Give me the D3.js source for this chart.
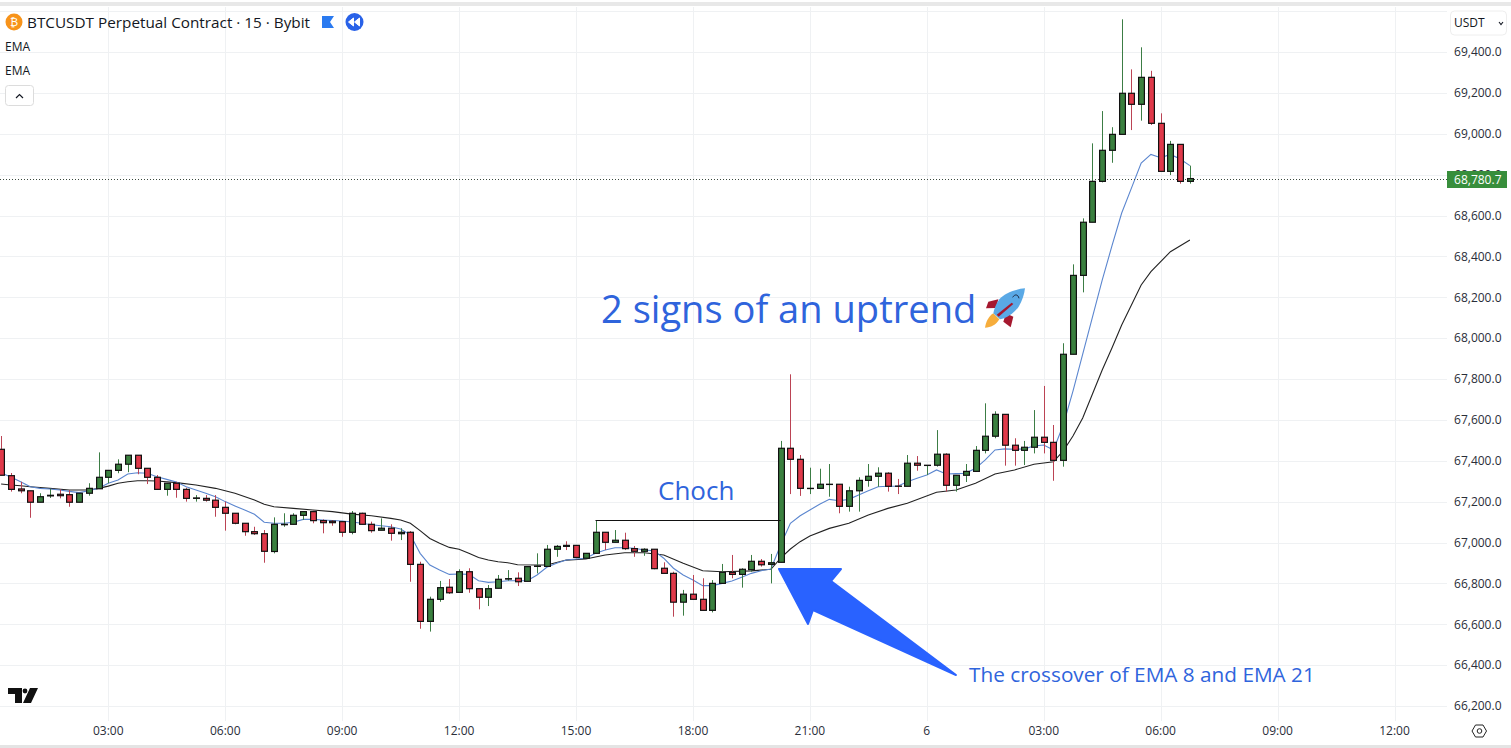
<!DOCTYPE html>
<html>
<head>
<meta charset="utf-8">
<title>BTCUSDT Perpetual Contract</title>
<script src="https://cdn.jsdelivr.net/npm/d3@7"></script>
<style>
  html, body { margin: 0; padding: 0; background: #fff; overflow: hidden; }
  svg { display: block; font-family: "Open Sans", sans-serif; }
</style>
</head>
<body>
<div id="chart"></div>
<script>
// 15 minute candles
var opens = [67456,67327,67262,67253,67197,67228,67236,67234,67197,67241,67263,67319,67353,67383,67427,67363,67319,67260,67290,67260,
  67216,67216,67207,67172,67143,67094,67053,67043,66956,67087,67089,67133,67151,67107,67104,67102,67050,67143,67089,67060,
  67070,67043,67050,66893,66614,66722,66781,66756,66857,66774,66732,66776,66821,66825,66810,66883,66883,66967,66986,66986,
  66923,66947,67050,67001,67011,66970,66957,66967,66874,66849,66708,66747,66722,66668,66800,66854,66844,66867,66908,66893,
  66903,67461,67407,67264,67265,67284,67285,67177,67253,67304,67324,67339,67276,67275,67388,67377,67378,67432,67280,67329,
  67348,67451,67520,67627,67476,67451,67466,67515,67490,67402,67921,68307,68567,68767,68919,68997,69198,69144,69276,69051,
  68816,68948,68767];
var closes = [67329,67260,67253,67197,67224,67231,67229,67197,67241,67265,67319,67353,67383,67427,67363,67319,67260,67290,67260,67216,
  67218,67207,67172,67143,67094,67053,67043,66957,67089,67089,67133,67151,67107,67097,67097,67050,67143,67089,67058,67070,
  67045,67050,66893,66614,66722,66779,66754,66857,66774,66732,66774,66820,66823,66808,66882,66885,66967,66981,66981,66927,
  66947,67050,67001,67011,66970,66957,66967,66872,66849,66708,66747,66722,66668,66800,66854,66844,66869,66908,66891,66901,
  67461,67407,67265,67265,67285,67285,67177,67253,67304,67324,67339,67275,67275,67388,67378,67378,67432,67280,67329,67348,
  67451,67520,67627,67476,67451,67466,67515,67490,67402,67921,68307,68567,68767,68919,68997,69198,69144,69276,69051,68816,
  68948,68767,68780.7];
var highs = [67521,67340,67297,67253,67241,67262,67260,67257,67241,67290,67441,67353,67407,67427,67427,67363,67330,67290,67297,67268,
  67232,67232,67232,67200,67143,67094,67077,67061,67123,67143,67143,67151,67156,67113,67110,67102,67154,67146,67102,67118,
  67089,67070,67056,66906,66735,66812,66821,66869,66874,66774,66792,66841,66865,66854,66882,66947,66988,66988,67006,66986,
  66947,67110,67050,67061,67048,66983,66972,66967,66903,66857,66768,66841,66825,66816,66895,66939,66874,66939,66919,66944,
  67497,67823,67428,67366,67361,67384,67285,67273,67319,67384,67368,67344,67311,67428,67423,67378,67550,67437,67329,67384,
  67472,67681,67642,67627,67510,67497,67648,67766,67575,67975,68361,68586,68953,69111,69032,69560,69315,69423,69308,69100,
  68965,68948,68844];
var lows = [67329,67249,67241,67121,67197,67218,67216,67175,67197,67229,67263,67290,67339,67344,67334,67286,67260,67229,67219,67200,
  67200,67200,67126,67058,67089,67033,67037,66901,66947,67077,67089,67110,67094,67045,67082,67028,67040,67089,67048,67060,
  67009,67012,66808,66578,66564,66710,66748,66756,66754,66673,66689,66776,66813,66787,66810,66849,66883,66930,66963,66923,
  66919,66947,66963,67001,66963,66930,66935,66869,66849,66637,66642,66722,66668,66658,66800,66825,66779,66857,66882,66800,
  66903,67237,67228,67237,67265,67224,67143,67151,67151,67273,67273,67249,67237,67275,67351,67330,67371,67249,67249,67296,
  67345,67436,67510,67376,67376,67379,67436,67436,67302,67371,67921,68224,68567,68762,68858,68997,69018,69064,69043,68816,
  68798,68756,68756];

// EMA 8, one reading per candle
var emaFast = [67340,67320,67297,67273,67265,67262,67257,67250,67244,67253,67265,67290,67306,67335,67341,67339,67322,67309,67296,67273,
  67257,67241,67224,67200,67179,67159,67138,67099,67094,67094,67099,67113,67113,67110,67108,67105,67100,67094,67087,67082,
  67077,67066,67037,66947,66890,66865,66844,66846,66844,66813,66805,66808,66813,66813,66813,66841,66879,66898,66914,66919,
  66923,66947,66963,66974,66974,66972,66963,66960,66923,66874,66841,66817,66789,66789,66800,66812,66830,66849,66862,66870,
  66988,67094,67131,67159,67187,67211,67204,67211,67232,67253,67273,67275,67275,67297,67314,67330,67355,67335,67337,67339,
  67363,67404,67453,67458,67456,67458,67472,67477,67453,67575,67741,67922,68103,68284,68451,68612,68734,68857,68899,68883,
  68899,68876,68844];

// EMA 21, read at the candles listed in emaSlowAt
var emaSlowAt = [0,1,2,3,5,7,9,10,11,12,13,14,15,16,18,20,22,24,26,27,28,30,32,34,36,38,40,41,42,43,44,45,46,47,48,49,50,51,52,53,55,56,
  58,60,62,64,66,68,70,72,74,77,79,80,81,82,83,85,87,89,91,93,96,98,100,102,104,106,108,109,110,111,112,113,114,115,117,118,120,122];
var emaSlow = [67286,67281,67278,67273,67265,67257,67257,67265,67276,67290,67297,67302,67302,67301,67293,67281,67265,67241,67208,67187,67175,67167,67159,67151,67139,67131,67118,67110,67094,67058,67020,66996,66976,66967,66947,66927,66914,66906,66901,66891,66890,66890,
  66914,66919,66939,66950,66950,66939,66898,66862,66857,66861,66869,66924,66968,67004,67032,67069,67094,67135,67167,67192,67246,67257,67290,67335,67355,67383,67395,67448,67521,67609,67727,67844,67952,68064,68260,68325,68423,68480];

var priceTicks = [66200,66400,66600,66800,67000,67200,67400,67600,67800,68000,68200,68400,68600,68800,69000,69200,69400];
var gridPrices = priceTicks.concat([69600]);
var timeTickAt = [11,23,35,47,59,71,83,95,107,119,131,143];
var timeLabels = ['03:00','06:00','09:00','12:00','15:00','18:00','21:00','6','03:00','06:00','09:00','12:00'];

var lastPrice = 68780.7;
var chochPrice = 67110, chochFrom = 61, chochTo = 80;

var width = 1511, height = 748;
var plotRight = 1447;
var upFill = '#3a803f', downFill = '#e0394a', upWick = '#3c7d45', downWick = '#bb4354';
var blue = '#2f64dc';

var x = d3.scaleLinear().domain([0, 122]).range([1.1, 1189.9]);
var y = d3.scaleLinear().domain([69400, 66200]).range([52, 706]);

var svg = d3.select('#chart').append('svg')
  .attr('width', width)
  .attr('height', height);

svg.append('rect').attr('width', width).attr('height', height).attr('fill', '#fff');
svg.append('rect').attr('y', 2).attr('width', width).attr('height', 4).attr('fill', '#e8e8e8');
svg.append('rect').attr('y', 745).attr('width', width).attr('height', 3).attr('fill', '#e4e4e4');

// grid
svg.append('g').selectAll('line').data(gridPrices).enter().append('line')
  .attr('x1', 0).attr('x2', plotRight)
  .attr('y1', function(d) { return Math.round(y(d)) + 0.5; })
  .attr('y2', function(d) { return Math.round(y(d)) + 0.5; })
  .attr('stroke', '#eff1f3');
svg.append('g').selectAll('line').data(timeTickAt).enter().append('line')
  .attr('y1', 7).attr('y2', 721)
  .attr('x1', function(d) { return Math.round(x(d)) + 0.5; })
  .attr('x2', function(d) { return Math.round(x(d)) + 0.5; })
  .attr('stroke', '#eff1f3');

// axes
var priceAxis = d3.axisRight(y)
  .tickValues(priceTicks)
  .tickSize(0)
  .tickFormat(d3.format(',.1f'));
var gp = svg.append('g').attr('transform', 'translate(1501.5,0)').call(priceAxis);
gp.select('.domain').remove();
gp.selectAll('text').attr('x', 0).attr('text-anchor', 'end')
  .style('font-size', '12px').style('font-family', '"Open Sans", sans-serif').attr('fill', '#2a2e39');

var timeAxis = d3.axisBottom(x)
  .tickValues(timeTickAt)
  .tickSize(0)
  .offset(0)
  .tickFormat(function(d, i) { return timeLabels[i]; });
var gt = svg.append('g').attr('transform', 'translate(0,726)').call(timeAxis);
gt.select('.domain').remove();
gt.selectAll('text').attr('y', 0).attr('dy', '0.71em')
  .style('font-size', '12px').style('font-family', '"Open Sans", sans-serif').attr('fill', '#2a2e39');

// ema lines
var lineFast = d3.line()
  .x(function(d, i) { return x(i); })
  .y(function(d) { return y(d); });
var lineSlow = d3.line()
  .x(function(d, i) { return x(emaSlowAt[i]); })
  .y(function(d) { return y(d); });

svg.append('path').datum(emaSlow).attr('d', lineSlow)
  .attr('fill', 'none').attr('stroke', '#222').attr('stroke-width', 1.1);
svg.append('path').datum(emaFast).attr('d', lineFast)
  .attr('fill', 'none').attr('stroke', '#5b86cf').attr('stroke-width', 1.1);

// last price dotted line
svg.append('line')
  .attr('x1', 0).attr('x2', plotRight)
  .attr('y1', Math.round(y(lastPrice)) + 0.5).attr('y2', Math.round(y(lastPrice)) + 0.5)
  .attr('stroke', '#3c4a3e').attr('stroke-dasharray', '1,2');

// candles
var candle = svg.append('g').selectAll('g').data(d3.range(opens.length)).enter().append('g');
candle.append('line')
  .attr('x1', function(d) { return Math.round(x(d)) + 0.5; })
  .attr('x2', function(d) { return Math.round(x(d)) + 0.5; })
  .attr('y1', function(d) { return y(highs[d]); })
  .attr('y2', function(d) { return y(lows[d]); })
  .attr('stroke', function(d) { return closes[d] >= opens[d] ? upWick : downWick; })
  .attr('stroke-width', 1);
candle.append('rect')
  .attr('x', function(d) { return Math.round(x(d)) + 0.5 - 2.9; })
  .attr('width', 5.8)
  .attr('y', function(d) { return y(Math.max(opens[d], closes[d])); })
  .attr('height', function(d) { return Math.abs(y(opens[d]) - y(closes[d])); })
  .attr('fill', function(d) { return closes[d] >= opens[d] ? upFill : downFill; })
  .attr('stroke', '#111')
  .attr('stroke-width', 1.2);

// choch level
svg.append('line')
  .attr('x1', x(chochFrom)).attr('x2', x(chochTo))
  .attr('y1', Math.round(y(chochPrice)) + 0.5).attr('y2', Math.round(y(chochPrice)) + 0.5)
  .attr('stroke', '#111').attr('stroke-width', 1);

// annotations
svg.append('text').attr('x', 601).attr('y', 323).text('2 signs of an uptrend')
  .attr('fill', blue).style('font-size', '38.1px');
svg.append('text').attr('x', 658).attr('y', 500).text('Choch')
  .attr('fill', blue).style('font-size', '26px');
svg.append('text').attr('x', 969).attr('y', 682).text('The crossover of EMA 8 and EMA 21')
  .attr('fill', blue).style('font-size', '20.75px');

// arrow
svg.append('path')
  .attr('d', 'M779,569 L841,569 L831,581 L956,675 L813,610 L808,624 Z')
  .attr('fill', '#2962ff').attr('stroke', '#2962ff').attr('stroke-width', 2).attr('stroke-linejoin', 'round');

// rocket
var rocket = svg.append('g').attr('transform', 'translate(960,280) scale(0.3333)');
rocket.append('path').attr('d', 'M100,100 C85,110 78,125 75,143 C92,143 108,135 118,118 Z').attr('fill', '#f6ad3c');
rocket.append('path').attr('d', 'M115,58 L85,65 L78,85 L108,84 Z').attr('fill', '#a5182f');
rocket.append('path').attr('d', 'M138,100 L130,125 L152,142 L160,110 Z').attr('fill', '#a5182f');
rocket.append('path').attr('d', 'M195,25 C165,28 135,38 118,58 C108,72 102,88 100,100 L120,118 C140,115 162,100 176,80 C188,60 193,42 195,25 Z').attr('fill', '#5aa9e6');
rocket.append('path').attr('d', 'M110,104 L155,68 L160,72 L116,110 Z').attr('fill', '#a5182f');
rocket.append('path').attr('d', 'M158,52 C164,42 174,42 177,55').attr('fill', 'none').attr('stroke', '#1d2a44').attr('stroke-width', 3);

// last price label, sits on top of the 68,800 tick
svg.append('rect').attr('x', 1447).attr('y', 171).attr('width', 60).attr('height', 17).attr('fill', '#388e3c');
svg.append('text').attr('x', 1501.5).attr('y', 183.5).attr('text-anchor', 'end').text(d3.format(',.1f')(lastPrice))
  .attr('fill', '#fff').style('font-size', '12px');

// legend
svg.append('circle').attr('cx', 14).attr('cy', 22).attr('r', 8.5).attr('fill', '#f7931a');
svg.append('text').attr('x', 14).attr('y', 26).attr('text-anchor', 'middle').text('₿')
  .attr('fill', '#fff').style('font-size', '11px').style('font-family', '"DejaVu Sans", sans-serif');
svg.append('text').attr('x', 27).attr('y', 28).text('BTCUSDT Perpetual Contract · 15 · Bybit')
  .attr('fill', '#131722').style('font-size', '15.3px');
svg.append('path').attr('d', 'M322,16 L334,16 L330,22 L334,28 L322,28 Z').attr('fill', '#2a7af0');
svg.append('circle').attr('cx', 354.5).attr('cy', 22).attr('r', 9).attr('fill', '#2962e8');
svg.append('path').attr('d', 'M353.5,18 L353.5,26 L348.5,22 Z M359.5,18 L359.5,26 L354.5,22 Z').attr('fill', '#fff').attr('stroke', '#fff').attr('stroke-linejoin', 'round');
svg.append('text').attr('x', 5).attr('y', 51).text('EMA').attr('fill', '#131722').style('font-size', '12px');
svg.append('text').attr('x', 5).attr('y', 75).text('EMA').attr('fill', '#131722').style('font-size', '12px');
svg.append('rect').attr('x', 5.5).attr('y', 85.5).attr('width', 28).attr('height', 20).attr('rx', 3)
  .attr('fill', '#fff').attr('stroke', '#dcdcdc');
svg.append('path').attr('d', 'M16,98 L19.5,94.5 L23,98').attr('fill', 'none').attr('stroke', '#131722').attr('stroke-width', 1.2);

// currency button
svg.append('rect').attr('x', 1450.5).attr('y', 11).attr('width', 56).attr('height', 24).attr('rx', 4)
  .attr('fill', '#fff').attr('stroke', '#eeeeee');
svg.append('text').attr('x', 1454).attr('y', 27).text('USDT').attr('fill', '#131722').style('font-size', '12px');
svg.append('path').attr('d', 'M1499,22 L1501,24.5 L1503,22').attr('fill', 'none').attr('stroke', '#131722').attr('stroke-width', 1.1);

// tv logo
svg.append('path').attr('d', 'M8,688 L22,688 L22,703 L15,703 L15,694 L8,694 Z M30,688 L38,688 L31,703 L23,703 Z').attr('fill', '#111');
svg.append('circle').attr('cx', 25).attr('cy', 691).attr('r', 2.4).attr('fill', '#111');

// settings icon
svg.append('path').attr('d', 'M1472,731 L1475.5,725 L1483,725 L1486.5,731 L1483,737 L1475.5,737 Z')
  .attr('fill', 'none').attr('stroke', '#222').attr('stroke-width', 1);
svg.append('circle').attr('cx', 1479.5).attr('cy', 731).attr('r', 2.3).attr('fill', 'none').attr('stroke', '#222');
</script>
</body>
</html>
